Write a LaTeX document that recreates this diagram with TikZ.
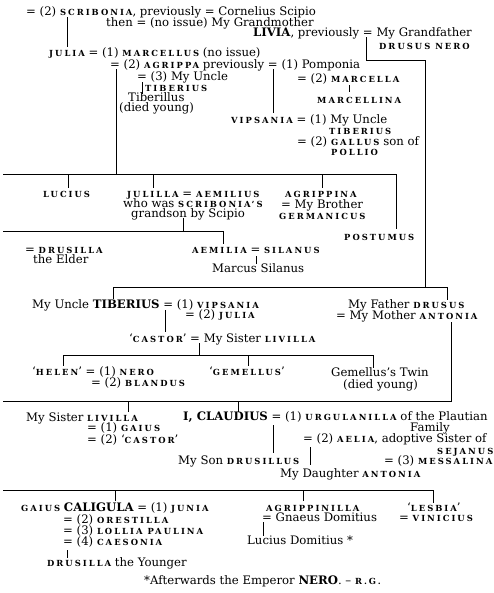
\documentclass[tikz,border=0pt]{standalone}
\usepackage{fontspec}
\setmainfont{DejaVu Serif}
\newcommand\SC[1]{{\fontsize{8.4}{9}\selectfont\bfseries\addfontfeature{LetterSpace=24}#1}}
\newcommand\BC[1]{{\bfseries #1}}
\tikzset{
  t/.style={anchor=west,inner sep=0pt,text height=7pt,text depth=0pt,font=\fontsize{11.7}{11}\selectfont},
  ln/.style={line width=1pt,line cap=rect}
}
\begin{document}
\begin{tikzpicture}[x=1pt,y=-1pt]
\useasboundingbox (0,0) rectangle (494,593);
% ---- texts ----
\node[t] (scrib) at (26,12) {= (2) \SC{SCRIBONIA}, previously = Cornelius Scipio};
\node[t] (then) at (106,23) {then = (no issue) My Grandmother};
\node[t] (livia) at (253,33) {\BC{LIVIA}, previously = My Grandfather};
\node[t] (drusnero) at (379,46) {\SC{DRUSUS NERO}};
\node[t] (julia) at (49,53) {\SC{JULIA} = (1) \SC{MARCELLUS} (no issue)};
\node[t] (agrippa) at (110,65) {= (2) \SC{AGRIPPA} previously = (1) Pomponia};
\node[t] (uncle3) at (137,77) {= (3) My Uncle};
\node[t] (marcella) at (297,79) {= (2) \SC{MARCELLA}};
\node[t] (tib3) at (145,88) {\SC{TIBERIUS}};
\node[t] (marcellina) at (317,100) {\SC{MARCELLINA}};
\node[t] (tiberillus) at (128,98) {Tiberillus};
\node[t] (died1) at (119,108) {(died young)};
\node[t] (vips) at (231,120) {\SC{VIPSANIA} = (1) My Uncle};
\node[t] (tibv) at (329,131) {\SC{TIBERIUS}};
\node[t] (gallus) at (297,142) {= (2) \SC{GALLUS} son of};
\node[t] (pollio) at (331,152) {\SC{POLLIO}};
\node[t] (lucius) at (43,194) {\SC{LUCIUS}};
\node[t] (julilla) at (127,194) {\SC{JULILLA} = \SC{AEMILIUS}};
\node[t] (whowas) at (123,204) {who was \SC{SCRIBONIA’S}};
\node[t] (grandson) at (131,214) {grandson by Scipio};
\node[t] (agrippina) at (285,194) {\SC{AGRIPPINA}};
\node[t] (brother) at (281,205) {= My Brother};
\node[t] (germ) at (279,216) {\SC{GERMANICUS}};
\node[t] (postumus) at (344,237) {\SC{POSTUMUS}};
\node[t] (drusilla) at (25,250) {= \SC{DRUSILLA}};
\node[t] (elder) at (33,260) {the Elder};
\node[t] (aemilia) at (192,250) {\SC{AEMILIA} = \SC{SILANUS}};
\node[t] (marcus) at (212,269) {Marcus Silanus};
\node[t] (tiberius) at (32,305) {My Uncle \BC{TIBERIUS} = (1) \SC{VIPSANIA}};
\node[t] (tjulia) at (185,315) {= (2) \SC{JULIA}};
\node[t] (castor) at (129,339) {‘\SC{CASTOR}’ = My Sister \SC{LIVILLA}};
\node[t] (father) at (348,305) {My Father \SC{DRUSUS}};
\node[t] (mother) at (336,316) {= My Mother \SC{ANTONIA}};
\node[t] (helen) at (32,372) {‘\SC{HELEN}’ = (1) \SC{NERO}};
\node[t] (blandus) at (91,383) {= (2) \SC{BLANDUS}};
\node[t] (gemellus) at (209,372) {‘\SC{GEMELLUS}’};
\node[t] (twin) at (331,373) {Gemellus’s Twin};
\node[t] (died2) at (343,385) {(died young)};
\node[t] (livilla) at (26,418) {My Sister \SC{LIVILLA}};
\node[t] (gaius) at (87,428) {= (1) \SC{GAIUS}};
\node[t] (lcastor) at (87,440) {= (2) ‘\SC{CASTOR}’};
\node[t] (claudius) at (183,417) {\BC{I, CLAUDIUS} = (1) \SC{URGULANILLA} of the Plautian};
\node[t] (family) at (410,428) {Family};
\node[t] (aelia) at (303,439) {= (2) \SC{AELIA}, adoptive Sister of};
\node[t] (sejanus) at (437,451) {\SC{SEJANUS}};
\node[t] (messalina) at (384,461) {= (3) \SC{MESSALINA}};
\node[t] (son) at (178,461) {My Son \SC{DRUSILLUS}};
\node[t] (daughter) at (280,474) {My Daughter \SC{ANTONIA}};
\node[t] (caligula) at (21,508) {\SC{GAIUS} \BC{CALIGULA} = (1) \SC{JUNIA}};
\node[t] (orestilla) at (63,520) {= (2) \SC{ORESTILLA}};
\node[t] (lollia) at (63,531) {= (3) \SC{LOLLIA PAULINA}};
\node[t] (caesonia) at (63,542) {= (4) \SC{CAESONIA}};
\node[t] (younger) at (47,563) {\SC{DRUSILLA} the Younger};
\node[t] (agrippinilla) at (266,508) {\SC{AGRIPPINILLA}};
\node[t] (gnaeus) at (262,518) {= Gnaeus Domitius};
\node[t] (ldomitius) at (247,541) {Lucius Domitius *};
\node[t] (lesbia) at (407,508) {‘\SC{LESBIA}’};
\node[t] (vinicius) at (399,518) {= \SC{VINICIUS}};
\node[t] (foot) at (144,581) {*Afterwards the Emperor \BC{NERO}. – \SC{R.G.}};
% ---- junction coordinates ----
\coordinate (a1) at (67,18);   \coordinate (a2) at (67,47);
\coordinate (b1) at (366,38);  \coordinate (b2) at (366,61);
\coordinate (b3) at (425,61);  \coordinate (b4) at (425,287);
\coordinate (c1) at (116,70);  \coordinate (c2) at (116,175);
\coordinate (d0) at (3,175);   \coordinate (d4) at (396,175);
\coordinate (d1) at (68,188);  \coordinate (d2) at (153,188);
\coordinate (d3) at (322,188); \coordinate (d5) at (396,229);
\coordinate (e1) at (273,70);  \coordinate (e2) at (273,113);
\coordinate (f1) at (349,86);  \coordinate (f2) at (349,92);
\coordinate (g1) at (142,83);  \coordinate (g2) at (142,94);
\coordinate (h1) at (183,219); \coordinate (h2) at (183,232);
\coordinate (h0) at (3,232);   \coordinate (h3) at (223,232);
\coordinate (h4) at (223,243);
\coordinate (i1) at (256,256); \coordinate (i2) at (256,263);
\coordinate (j0) at (113,287); \coordinate (j3) at (447,287);
\coordinate (j1) at (113,298); \coordinate (j2) at (447,299);
\coordinate (k1) at (165,310); \coordinate (k2) at (165,331);
\coordinate (l1) at (199,343); \coordinate (l2) at (199,355);
\coordinate (l0) at (63,355);  \coordinate (l5) at (373,355);
\coordinate (l3) at (63,365);  \coordinate (l4) at (248,365);
\coordinate (l6) at (373,367);
\coordinate (m1) at (451,322); \coordinate (m2) at (451,401);
\coordinate (m0) at (3,401);
\coordinate (m3) at (128,411); \coordinate (m4) at (238,411);
\coordinate (n1) at (273,425); \coordinate (n2) at (273,452);
\coordinate (o1) at (310,447); \coordinate (o2) at (310,464);
\coordinate (p0) at (3,490);   \coordinate (p4) at (433,490);
\coordinate (p1) at (115,500); \coordinate (p2) at (303,500);
\coordinate (p3) at (433,502);
\coordinate (q1) at (67,550);  \coordinate (q2) at (67,557);
\coordinate (r1) at (263,522); \coordinate (r2) at (263,535);
% ---- connectors ----
\draw[ln] (a1) -- (a2);
\draw[ln] (b1) -- (b2) -- (b3) -- (b4);
\draw[ln] (c1) -- (c2);
\draw[ln] (d0) -- (d4) -- (d5);
\draw[ln] (d1) -- (d1 |- d0);
\draw[ln] (d2) -- (d2 |- d0);
\draw[ln] (d3) -- (d3 |- d0);
\draw[ln] (e1) -- (e2);
\draw[ln] (f1) -- (f2);
\draw[ln] (g1) -- (g2);
\draw[ln] (h1) -- (h2);
\draw[ln] (h0) -- (h3) -- (h4);
\draw[ln] (i1) -- (i2);
\draw[ln] (j1) -- (j0) -- (j3) -- (j2);
\draw[ln] (k1) -- (k2);
\draw[ln] (l1) -- (l2);
\draw[ln] (l3) -- (l0) -- (l5) -- (l6);
\draw[ln] (l4) -- (l4 |- l0);
\draw[ln] (m1) -- (m2) -- (m0);
\draw[ln] (m3) -- (m3 |- m0);
\draw[ln] (m4) -- (m4 |- m0);
\draw[ln] (n1) -- (n2);
\draw[ln] (o1) -- (o2);
\draw[ln] (p0) -- (p4) -- (p3);
\draw[ln] (p1) -- (p1 |- p0);
\draw[ln] (p2) -- (p2 |- p0);
\draw[ln] (q1) -- (q2);
\draw[ln] (r1) -- (r2);
\end{tikzpicture}
\end{document}
